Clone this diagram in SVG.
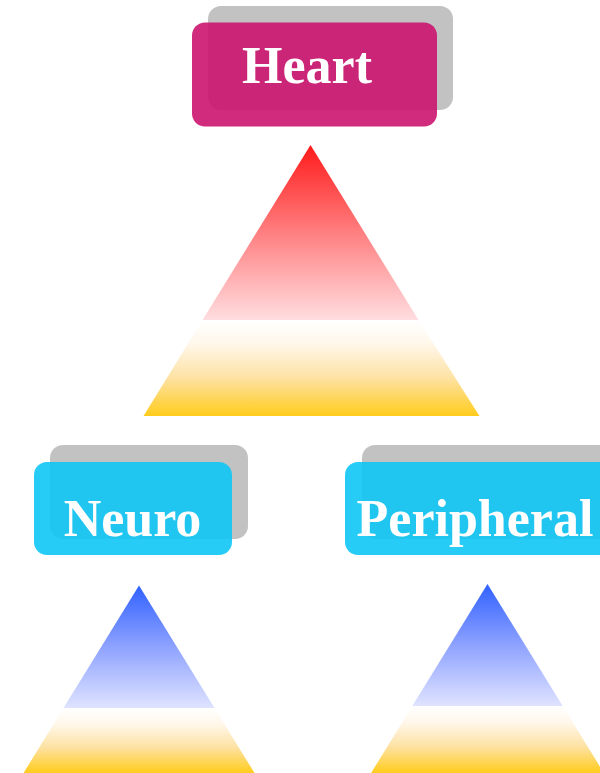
<svg xmlns="http://www.w3.org/2000/svg" width="600" height="773" viewBox="0 0 600 773">
  <defs>
    <linearGradient id="gRed" x1="0" y1="0" x2="0" y2="1">
      <stop offset="0" stop-color="#ff1a1a"/>
      <stop offset="0.5" stop-color="#ff7f80"/>
      <stop offset="1" stop-color="#ffdde0"/>
    </linearGradient>
    <linearGradient id="gBlue" x1="0" y1="0" x2="0" y2="1">
      <stop offset="0" stop-color="#3061ff"/>
      <stop offset="0.5" stop-color="#8ea2ff"/>
      <stop offset="1" stop-color="#dfe3ff"/>
    </linearGradient>
    <linearGradient id="gGold" x1="0" y1="0" x2="0" y2="1">
      <stop offset="0" stop-color="#ffffff"/>
      <stop offset="0.25" stop-color="#fff7ea"/>
      <stop offset="0.6" stop-color="#fde2a4"/>
      <stop offset="1" stop-color="#ffcc1c"/>
    </linearGradient>
  </defs>
  <style>
    .shadow { fill: #c2c2c2; }
    .heartBox { fill: #cc1470; opacity: 0.9; }
    .cyanBox { fill: #0ec6f5; opacity: 0.9; }
    .label { font-family: "Liberation Serif", "Times New Roman", serif; font-weight: bold; font-size: 52px; fill: #ffffff; text-anchor: middle; }
  </style>
  <rect width="600" height="773" fill="#ffffff"/>

  <g id="connectors"/>

  <g id="heart">
    <rect class="shadow" x="208" y="6" width="245" height="104" rx="13"/>
    <rect class="heartBox" x="192" y="22.5" width="245" height="104" rx="13"/>
    <text class="label" x="307" y="83">Heart</text>
  </g>

  <g id="heart-pyramid">
    <polygon points="310.5,145 418.5,320 202.5,320" fill="url(#gRed)"/>
    <polygon points="202.5,320 418.5,320 479.5,416 143.5,416" fill="url(#gGold)"/>
  </g>

  <g id="neuro">
    <rect class="shadow" x="50" y="445" width="198" height="94" rx="13"/>
    <rect class="cyanBox" x="34" y="462" width="198" height="93" rx="13"/>
    <text class="label" x="132.5" y="536">Neuro</text>
  </g>

  <g id="peripheral">
    <rect class="shadow" x="362" y="445" width="260" height="94" rx="13"/>
    <rect class="cyanBox" x="345" y="462" width="280" height="93" rx="13"/>
    <text class="label" x="475" y="536">Peripheral</text>
  </g>

  <g id="neuro-pyramid">
    <polygon points="139,585.5 214.5,708 63.5,708" fill="url(#gBlue)"/>
    <polygon points="63.5,708 214.5,708 254.5,773 23.5,773" fill="url(#gGold)"/>
  </g>

  <g id="peripheral-pyramid">
    <polygon points="487.5,584 562.7,706 412.3,706" fill="url(#gBlue)"/>
    <polygon points="412.3,706 562.7,706 603.9,773 371.1,773" fill="url(#gGold)"/>
  </g>
</svg>
